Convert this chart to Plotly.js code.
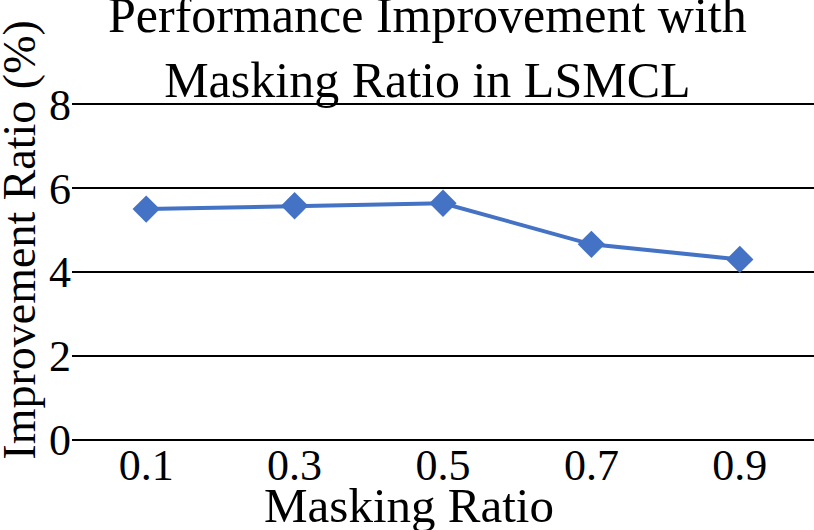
<!DOCTYPE html>
<html>
<head>
<meta charset="utf-8">
<script src="https://cdn.plot.ly/plotly-3.0.1.min.js"></script>
<style>
  html, body { margin: 0; padding: 0; background: #fff; }
  #chart { width: 814px; height: 530px; }
</style>
</head>
<body>
<div id="chart"></div>
<script>
// values
const maskingRatios = ["0.1", "0.3", "0.5", "0.7", "0.9"];
const improvement = [5.50, 5.58, 5.64, 4.66, 4.30];
const yTicks = [0, 2, 4, 6, 8];

const serif = "Liberation Serif, Times New Roman, serif";

const trace = {
  x: maskingRatios,
  y: improvement,
  type: "scatter",
  mode: "lines+markers",
  line: { color: "#4472C4", width: 4 },
  marker: { symbol: "diamond", size: 21, color: "#4472C4" },
  hoverinfo: "x+y",
};

const layout = {
  width: 814,
  height: 530,
  margin: { l: 72, r: 0, t: 103, b: 89 },
  paper_bgcolor: "#fff",
  plot_bgcolor: "#fff",
  showlegend: false,
  font: { family: serif, color: "#000" },
  title: {
    text: "Performance Improvement with<br>Masking Ratio in LSMCL",
    font: { family: serif, size: 50, color: "#000" },
    xref: "container",
    x: 0.525,
    xanchor: "center",
    yref: "container",
    y: 0.94,
    yanchor: "top",
    pad: { t: 0 },
  },
  xaxis: {
    type: "category",
    range: [-0.5, 4.5],
    showgrid: false,
    zeroline: false,
    showline: false,
    ticks: "",
    ticklabelstandoff: -6,
    tickfont: { family: serif, size: 44, color: "#000" },
    fixedrange: true,
  },
  yaxis: {
    range: [-0.03, 8.03],
    tickvals: yTicks,
    showgrid: true,
    gridcolor: "#000",
    gridwidth: 1.8,
    zeroline: false,
    showline: false,
    ticks: "",
    tickfont: { family: serif, size: 44, color: "#000" },
    fixedrange: true,
  },
  annotations: [
    {
      text: "Masking Ratio",
      xref: "paper",
      yref: "paper",
      x: 0.454,
      y: -0.19,
      xanchor: "center",
      yanchor: "middle",
      showarrow: false,
      font: { family: serif, size: 49, color: "#000" },
    },
    {
      text: "Improvement Ratio (%)",
      xref: "paper",
      yref: "paper",
      x: -0.07,
      y: 0.593,
      xanchor: "center",
      yanchor: "middle",
      textangle: -90,
      showarrow: false,
      font: { family: serif, size: 46, color: "#000" },
    },
  ],
};

Plotly.newPlot("chart", [trace], layout, { displayModeBar: false, staticPlot: true });
</script>
</body>
</html>
